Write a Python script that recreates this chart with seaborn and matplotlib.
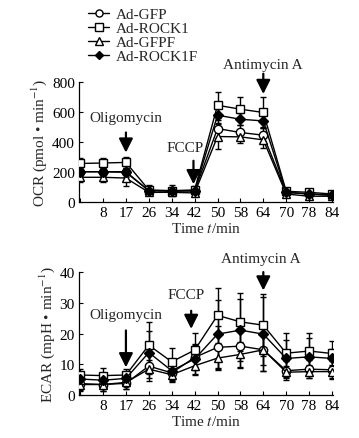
import numpy as np
import pandas as pd
import matplotlib
matplotlib.use("Agg")
import matplotlib.pyplot as plt
import seaborn as sns

sns.set_theme(style="ticks")
plt.rcParams['font.family'] = ['Liberation Serif', 'DejaVu Serif']
plt.rcParams['mathtext.fontset'] = 'stix'

# ---- data ----
time_labels = ["", "8", "17", "26", "34", "42", "50", "58", "64", "70", "78", "84"]
groups = ["Ad-GFP", "Ad-ROCK1", "Ad-GFPF", "Ad-ROCK1F"]

ocr_gfp = [203, 203, 199, 77, 73, 75, 490, 464, 446, 66, 55, 49]
ocr_rock1 = [258, 261, 265, 82, 77, 82, 645, 619, 597, 73, 66, 55]
ocr_gfpf = [166, 166, 161, 66, 66, 62, 437, 435, 415, 55, 40, 40]
ocr_rock1f = [203, 203, 203, 77, 77, 77, 579, 552, 541, 66, 55, 45]

ocr_err_gfp = [30, 30, 30, 25, 25, 20, 60, 50, 50, 15, 10, 10]
ocr_err_rock1 = [35, 35, 35, 30, 35, 25, 85, 80, 100, 20, 15, 10]
ocr_err_gfpf = [30, 30, 50, 20, 20, 20, 85, 40, 55, 15, 10, 10]
ocr_err_rock1f = [25, 25, 25, 20, 20, 20, 50, 40, 40, 15, 10, 10]

ecar_gfp = [3.7, 3.4, 3.8, 9.4, 7.2, 12.2, 15.5, 15.9, 14.7, 7.9, 8.4, 8.2]
ecar_rock1 = [6.5, 6.3, 6.5, 16.2, 10.8, 14.6, 25.9, 23.8, 22.7, 13.6, 14.3, 13.5]
ecar_gfpf = [3.4, 3.4, 4.1, 8.4, 6.6, 9.5, 12.0, 13.2, 14.7, 7.4, 7.6, 7.6]
ecar_rock1f = [5.2, 4.8, 5.4, 13.8, 7.9, 11.7, 19.8, 21.1, 19.8, 11.9, 12.4, 11.9]

ecar_err_gfp = [2, 2, 2, 5, 3, 4, 7, 7, 7, 3, 3, 3]
ecar_err_rock1 = [2, 2.5, 2, 7.5, 4.5, 5.5, 9, 9.5, 10, 6.5, 6, 4]
ecar_err_gfpf = [2, 2, 2, 3, 2, 3, 4, 4, 5, 2, 2, 2]
ecar_err_rock1f = [2, 2, 2, 7, 3, 5, 11, 10, 12, 6, 6, 3]

pos = np.arange(len(time_labels))

markers = {"Ad-GFP": "o", "Ad-ROCK1": "s", "Ad-GFPF": "^", "Ad-ROCK1F": "D"}
faces = {"Ad-GFP": "white", "Ad-ROCK1": "white", "Ad-GFPF": "white", "Ad-ROCK1F": "black"}
msize = {"Ad-GFP": 6, "Ad-ROCK1": 6, "Ad-GFPF": 6, "Ad-ROCK1F": 5}


def build(vals, errs):
    rows = []
    for g, v, e in zip(groups, vals, errs):
        for p, y, ee in zip(pos, v, e):
            rows.append({"pos": p, "val": y, "err": ee, "group": g})
    return pd.DataFrame(rows)


ocr_df = build([ocr_gfp, ocr_rock1, ocr_gfpf, ocr_rock1f],
               [ocr_err_gfp, ocr_err_rock1, ocr_err_gfpf, ocr_err_rock1f])
ecar_df = build([ecar_gfp, ecar_rock1, ecar_gfpf, ecar_rock1f],
                [ecar_err_gfp, ecar_err_rock1, ecar_err_gfpf, ecar_err_rock1f])

fig = plt.figure(figsize=(3.59, 4.39), dpi=100)
ax1 = fig.add_axes([0.22, 0.537, 0.708, 0.274])
ax2 = fig.add_axes([0.22, 0.098, 0.708, 0.280])

fs = 11


def draw(ax, df, ylim, yticks):
    for g in groups:
        sub = df[df.group == g]
        ax.errorbar(sub["pos"], sub["val"], yerr=sub["err"], fmt="none",
                    ecolor="black", elinewidth=1.0, capsize=2.5, capthick=1.0, zorder=1)
    for g in groups:
        sub = df[df.group == g]
        sns.lineplot(data=sub, x="pos", y="val", ax=ax, color="black",
                     marker=markers[g], markersize=msize[g], markerfacecolor=faces[g],
                     markeredgecolor="black", markeredgewidth=1.0, linewidth=1.0,
                     label=g, legend=False, zorder=3)
    ax.set_xlim(-0.05, 11.05)
    ax.set_ylim(*ylim)
    ax.set_yticks(yticks)
    ax.set_xticks(pos)
    ax.set_xticklabels(time_labels)
    ax.tick_params(direction="in", length=3, width=0.8, labelsize=fs, pad=3, colors="black")
    for s in ["top", "right"]:
        ax.spines[s].set_visible(False)
    for s in ["left", "bottom"]:
        ax.spines[s].set_color("black")
        ax.spines[s].set_linewidth(0.9)
    ax.set_xlabel(r"Time $t$/min", fontsize=fs, labelpad=1)


def arrow(ax, x, y0, y1):
    ax.annotate("", xy=(x, y1), xytext=(x, y0),
                arrowprops=dict(arrowstyle="-|>,head_width=0.35,head_length=0.7",
                                color="black", lw=1.6, shrinkA=0, shrinkB=0),
                annotation_clip=False, zorder=5)


draw(ax1, ocr_df, (0, 800), [0, 200, 400, 600, 800])
ax1.set_ylabel(r"OCR (pmol • min$^{-1}$)", fontsize=fs, labelpad=2)
ax1.text(2, 563, "Oligomycin", ha="center", va="center", fontsize=fs)
arrow(ax1, 2, 464, 330)
ax1.text(4.6, 365, "FCCP", ha="center", va="center", fontsize=fs)
arrow(ax1, 4.95, 276, 120)
ax1.text(8, 915, "Antimycin A", ha="center", va="center", fontsize=fs, clip_on=False)
arrow(ax1, 8, 855, 720)

draw(ax2, ecar_df, (0, 40), [0, 10, 20, 30, 40])
ax2.set_ylabel(r"ECAR (mpH • min$^{-1}$)", fontsize=fs, labelpad=2)
ax2.text(2, 26.3, "Oligomycin", ha="center", va="center", fontsize=fs)
arrow(ax2, 2, 21, 9)
ax2.text(4.65, 32.8, "FCCP", ha="center", va="center", fontsize=fs)
arrow(ax2, 4.85, 27.4, 21.5)
ax2.text(7.9, 44.3, "Antimycin A", ha="center", va="center", fontsize=fs, clip_on=False)
arrow(ax2, 8, 40, 34)

handles, labels = ax1.get_legend_handles_labels()
fig.legend(handles, labels, loc="upper left", bbox_to_anchor=(0.228, 0.995),
           frameon=False, fontsize=fs, handlelength=1.4, handletextpad=0.4,
           labelspacing=0.02, borderaxespad=0.2, borderpad=0.2, markerscale=0.85)

fig.savefig("out.png", dpi=100, facecolor="white")
